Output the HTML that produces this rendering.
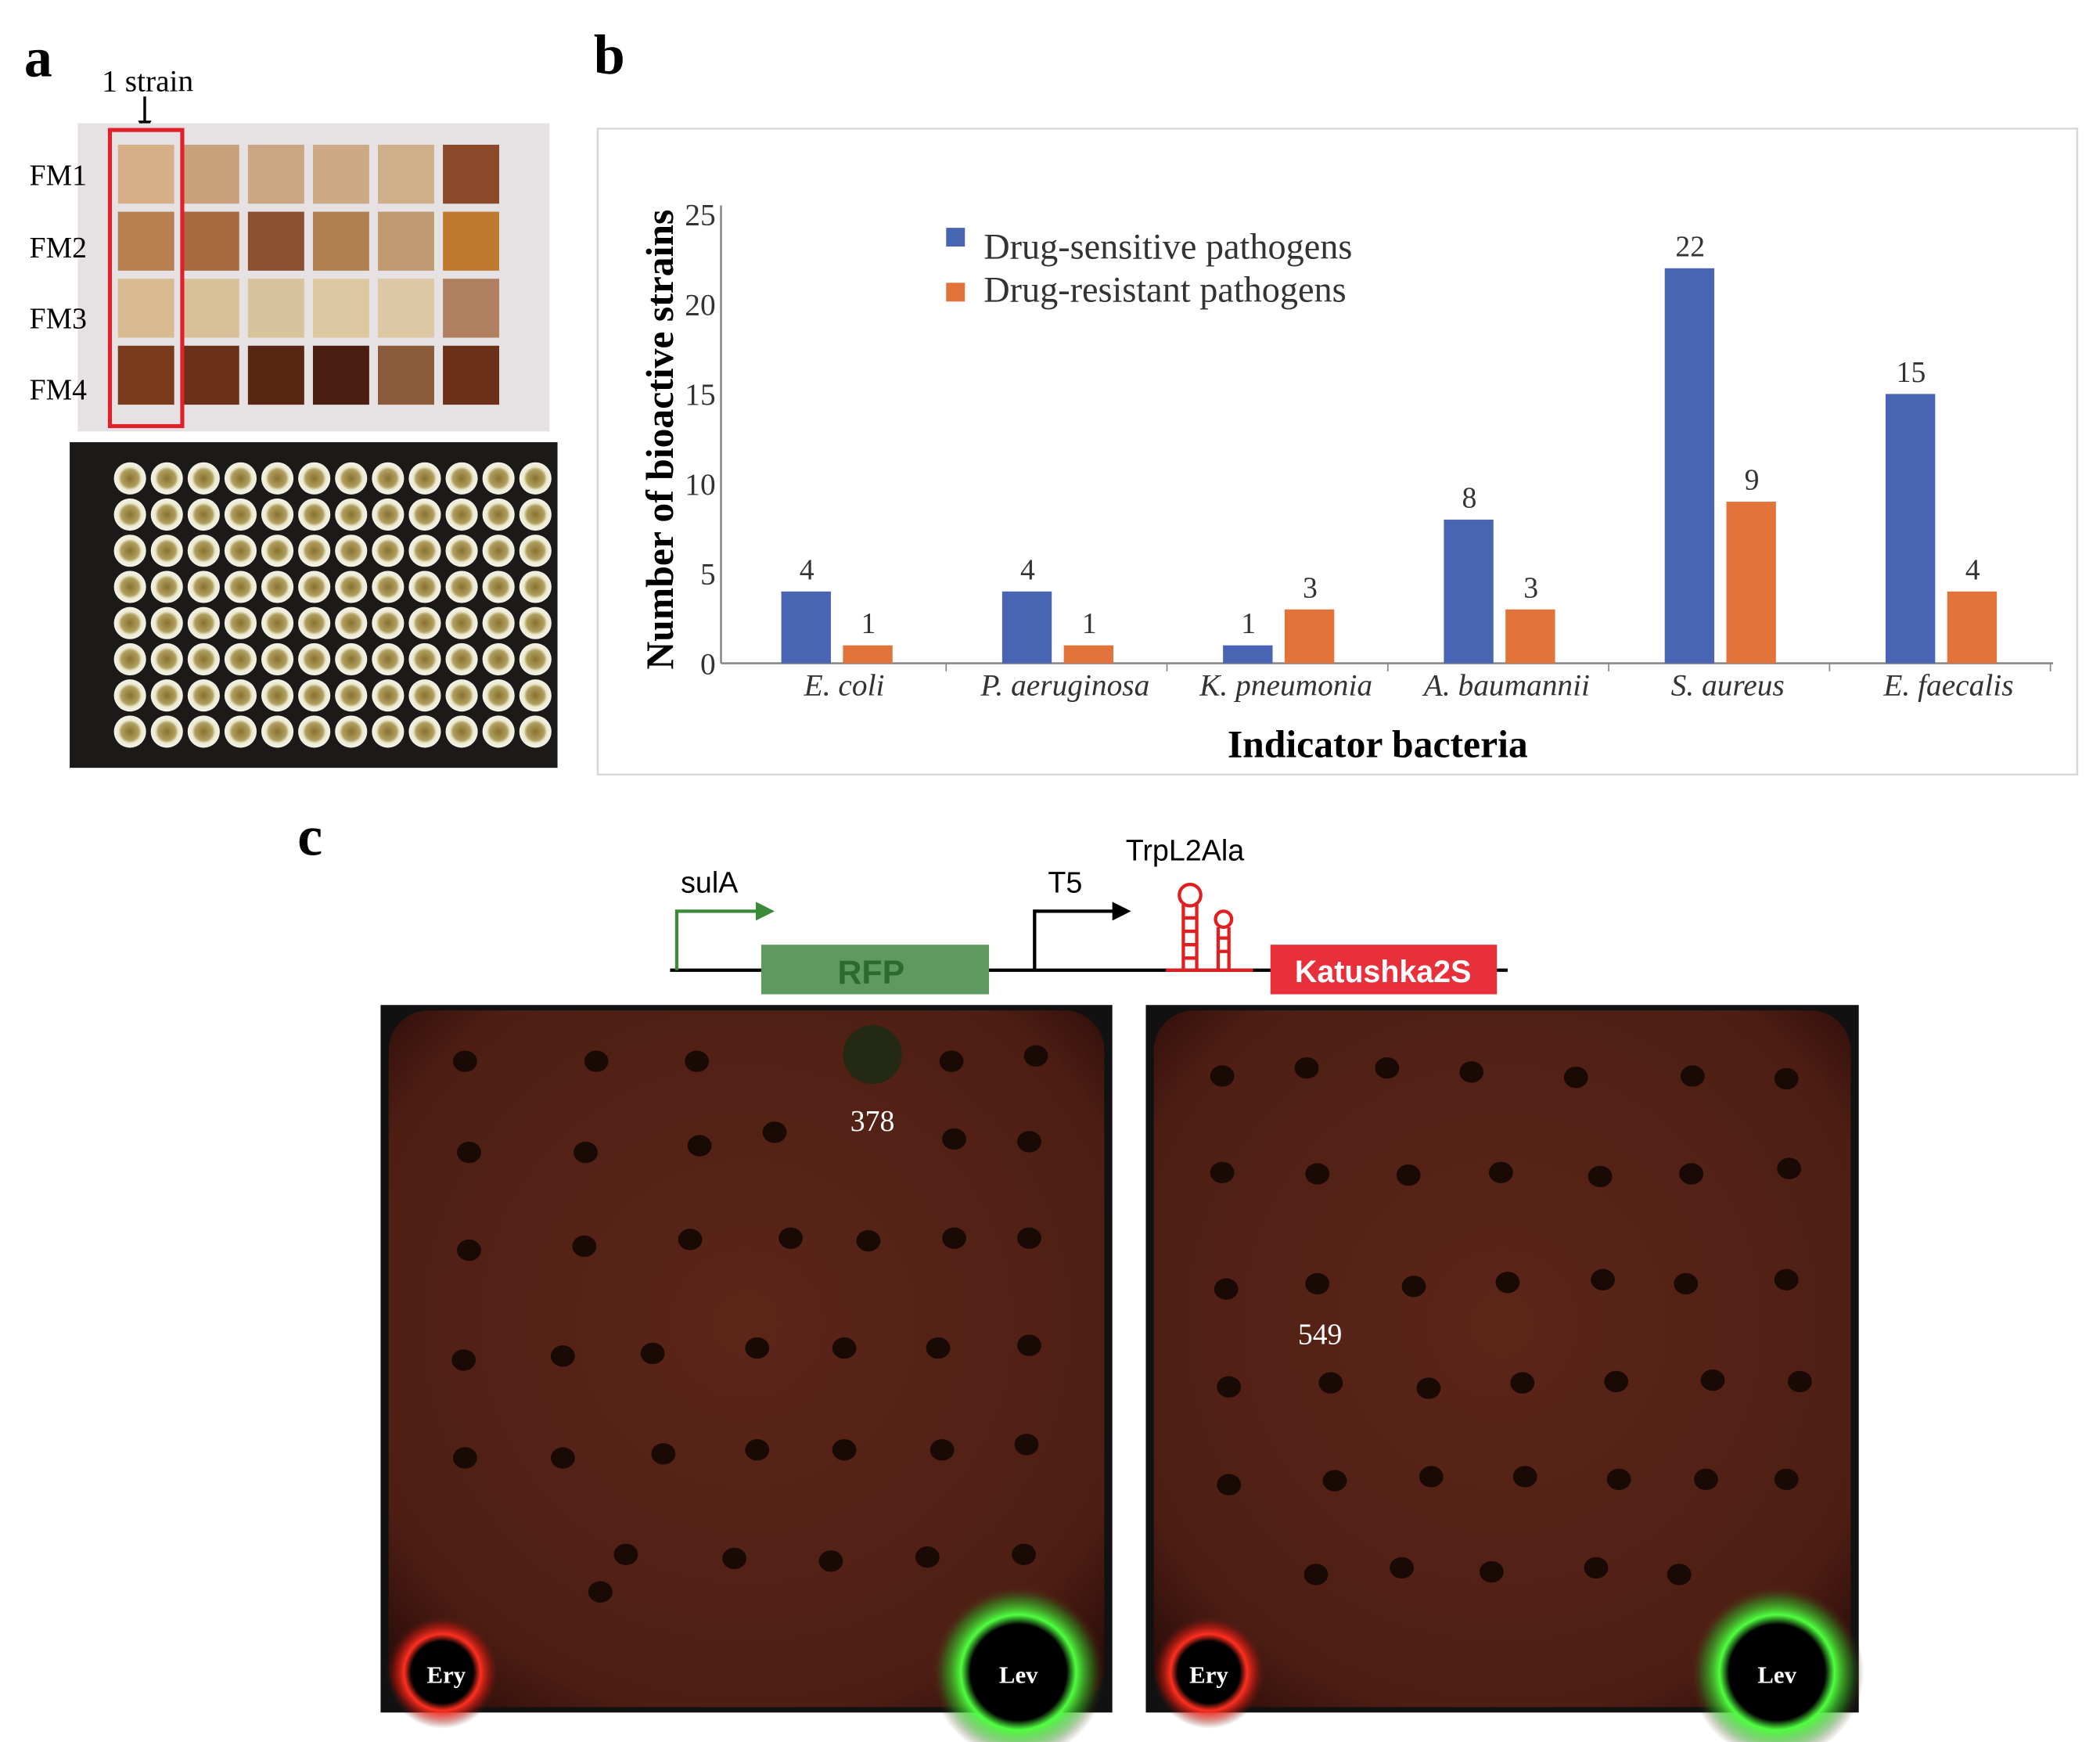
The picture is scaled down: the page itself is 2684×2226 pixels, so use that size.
<!DOCTYPE html>
<html><head><meta charset="utf-8"><style>html,body{margin:0;padding:0;background:#fff}svg{display:block}</style></head>
<body>
<svg id="fig" xmlns="http://www.w3.org/2000/svg" width="2684" height="2226" viewBox="0 0 1567 1300" preserveAspectRatio="none" font-family="'Liberation Serif', serif">
<defs>
<radialGradient id="plateG" cx="50%" cy="45%" r="70%"><stop offset="0" stop-color="#5c2618"/><stop offset="0.8" stop-color="#4e1e14"/><stop offset="1" stop-color="#2a0c08"/></radialGradient>
<radialGradient id="redGlow"><stop offset="0.55" stop-color="#000"/><stop offset="0.68" stop-color="#ff3020"/><stop offset="0.85" stop-color="#c01810" stop-opacity="0.5"/><stop offset="1" stop-color="#4a1c12" stop-opacity="0"/></radialGradient>
<radialGradient id="greenGlow"><stop offset="0.55" stop-color="#000"/><stop offset="0.66" stop-color="#50ff40"/><stop offset="0.85" stop-color="#30a020" stop-opacity="0.5"/><stop offset="1" stop-color="#4a1c12" stop-opacity="0"/></radialGradient>
<radialGradient id="wellG"><stop offset="0" stop-color="#8a7030"/><stop offset="0.55" stop-color="#b0a060"/><stop offset="0.72" stop-color="#ece8d0"/><stop offset="1" stop-color="#f4f4e8"/></radialGradient>
</defs>

<!-- Panel a -->
<text x="18" y="57" font-size="42" font-weight="bold">a</text>
<text x="76" y="68" font-size="23">1 strain</text>
<line x1="108" y1="72" x2="108" y2="94" stroke="#000" stroke-width="2"/>
<polygon points="103,90 113,90 108,100" fill="#000"/>
<g>
<rect x="58" y="92" width="352" height="230" fill="#e6e2e4"/>
<g id="cells"></g>
<rect x="82" y="97" width="54" height="221" fill="none" stroke="#e0202a" stroke-width="3"/>
</g>
<text x="22" y="138" font-size="22">FM1</text>
<text x="22" y="192" font-size="22">FM2</text>
<text x="22" y="245" font-size="22">FM3</text>
<text x="22" y="298" font-size="22">FM4</text>
<g>
<rect x="52" y="330" width="364" height="243" fill="#1c1a18"/>
<g id="wells"></g>
</g>

<!-- Panel b -->
<text x="443" y="55" font-size="42" font-weight="bold">b</text>
<rect x="446" y="96" width="1104" height="482" fill="#fff" stroke="#d8d8d8" stroke-width="1.5"/>
<g id="chart"></g>
<text transform="translate(502,328) rotate(-90)" text-anchor="middle" font-size="29" font-weight="bold">Number of bioactive strains</text>
<text x="1028" y="565" text-anchor="middle" font-size="29" font-weight="bold">Indicator bacteria</text>
<rect x="706" y="170" width="14" height="14" fill="#4a64b4"/>
<text x="734" y="193" font-size="27" fill="#333">Drug-sensitive pathogens</text>
<rect x="706" y="211" width="14" height="14" fill="#e2733a"/>
<text x="734" y="225" font-size="27" fill="#333">Drug-resistant pathogens</text>

<!-- Panel c -->
<text x="222" y="638" font-size="42" font-weight="bold">c</text>
<g font-family="'Liberation Sans', sans-serif">
<line x1="500" y1="724" x2="1125" y2="724" stroke="#000" stroke-width="2.5"/>
<polyline points="505,724 505,680 566,680" fill="none" stroke="#3a8a3a" stroke-width="2.5"/>
<polygon points="564,673 578,680 564,687" fill="#3a8a3a"/>
<text x="508" y="666" font-size="22">sulA</text>
<rect x="568" y="705" width="170" height="37" fill="#5e9a60"/>
<text x="650" y="734" text-anchor="middle" font-size="25" font-weight="bold" fill="#2d6a30">RFP</text>
<polyline points="772,724 772,680 832,680" fill="none" stroke="#000" stroke-width="2.5"/>
<polygon points="830,673 844,680 830,687" fill="#000"/>
<text x="782" y="666" font-size="22">T5</text>
<text x="840" y="642" font-size="22">TrpL2Ala</text>
<g stroke="#e02020" stroke-width="2.5" fill="none">
<line x1="870" y1="724" x2="935" y2="724"/>
<line x1="883" y1="724" x2="883" y2="675"/><line x1="893" y1="724" x2="893" y2="675"/>
<circle cx="888" cy="668" r="8"/>
<line x1="909" y1="724" x2="909" y2="692"/><line x1="917" y1="724" x2="917" y2="692"/>
<circle cx="913" cy="686" r="6"/>
<line x1="883" y1="685" x2="893" y2="685"/><line x1="883" y1="695" x2="893" y2="695"/><line x1="883" y1="705" x2="893" y2="705"/><line x1="883" y1="715" x2="893" y2="715"/>
<line x1="909" y1="700" x2="917" y2="700"/><line x1="909" y1="710" x2="917" y2="710"/>
</g>
<rect x="948" y="705" width="169" height="37" fill="#e8303a"/>
<text x="1032" y="733" text-anchor="middle" font-size="23" font-weight="bold" fill="#fff">Katushka2S</text>
</g>

<g>
<rect x="284" y="750" width="546" height="528" fill="#111"/>
<rect x="290" y="754" width="534" height="520" rx="30" fill="url(#plateG)"/>
<circle cx="330" cy="1248" r="42" fill="url(#redGlow)"/>
<circle cx="760" cy="1248" r="65" fill="url(#greenGlow)"/>
<circle cx="651" cy="787" r="22" fill="#1e2a12" opacity="0.9"/>
<g id="dotsL"></g>
<text x="651" y="844" text-anchor="middle" font-size="22" fill="#fff">378</text>
<text x="333" y="1256" text-anchor="middle" font-size="18" font-weight="bold" fill="#fff">Ery</text>
<text x="760" y="1256" text-anchor="middle" font-size="18" font-weight="bold" fill="#fff">Lev</text>
</g>
<g>
<rect x="855" y="750" width="532" height="528" fill="#111"/>
<rect x="861" y="754" width="520" height="520" rx="30" fill="url(#plateG)"/>
<circle cx="902" cy="1248" r="42" fill="url(#redGlow)"/>
<circle cx="1326" cy="1248" r="65" fill="url(#greenGlow)"/>
<g id="dotsR"></g>
<text x="985" y="1003" text-anchor="middle" font-size="22" fill="#fff">549</text>
<text x="902" y="1256" text-anchor="middle" font-size="18" font-weight="bold" fill="#fff">Ery</text>
<text x="1326" y="1256" text-anchor="middle" font-size="18" font-weight="bold" fill="#fff">Lev</text>
</g>
</svg>
<script>
const categories = ["E. coli","P. aeruginosa","K. pneumonia","A. baumannii","S. aureus","E. faecalis"];
const sensitiveValues = [4,4,1,8,22,15];
const resistantValues = [1,1,3,3,9,4];
const yTicks = [0,5,10,15,20,25];

const NS = "http://www.w3.org/2000/svg";
function mk(tag, attrs, parent){const e=document.createElementNS(NS,tag);for(const k in attrs)e.setAttribute(k,attrs[k]);parent.appendChild(e);return e;}
const y = v => 495 - v*13.4;
const xc = i => 624 + i*164.8;
const chart = document.getElementById('chart');
mk('line',{x1:538,y1:y(0),x2:1532,y2:y(0),stroke:'#888','stroke-width':1.5},chart);
mk('line',{x1:538,y1:y(0),x2:538,y2:y(25.5),stroke:'#888','stroke-width':1.5},chart);
yTicks.forEach(t=>{
  const tx=mk('text',{x:534,y:y(t)+8,'text-anchor':'end','font-size':23,fill:'#333'},chart);
  tx.textContent=t;
  
  
});
categories.forEach((c,i)=>{
  const cx=xc(i);
  mk('line',{x1:cx+82,y1:y(0),x2:cx+82,y2:y(0)+6,stroke:'#888'},chart);
  const b1=mk('rect',{x:cx-41,y:y(sensitiveValues[i]),width:37,height:y(0)-y(sensitiveValues[i]),fill:'#4a64b4'},chart);
  
  
  const b2=mk('rect',{x:cx+5,y:y(resistantValues[i]),width:37,height:y(0)-y(resistantValues[i]),fill:'#e2733a'},chart);
  
  
  const l1=mk('text',{x:cx-22,y:y(sensitiveValues[i])-9,'text-anchor':'middle','font-size':22,fill:'#333'},chart);
  l1.textContent=sensitiveValues[i];
  
  
  const l2=mk('text',{x:cx+24,y:y(resistantValues[i])-9,'text-anchor':'middle','font-size':22,fill:'#333'},chart);
  l2.textContent=resistantValues[i];
  
  
  const cl=mk('text',{x:cx+6,y:519,'text-anchor':'middle','font-size':23,'font-style':'italic',fill:'#333'},chart);
  cl.textContent=c;
  
  
});

// panel a plates
const cellColors=[["#d8b088","#c8a07a","#caa682","#ccaa86","#cfae8a","#8a4a2a"],
["#b88050","#a86a40","#8a5030","#b08050","#c09a70","#c07a30"],
["#d8bc90","#d8c098","#d8c49c","#dcc8a0","#dcc8a4","#b08060"],
["#7a3a1c","#6a3018","#5a2614","#4a1e10","#8a5a3a","#6a3018"]];
const cells=document.getElementById('cells');
for(let r=0;r<4;r++)for(let c=0;c<6;c++){
  mk('rect',{x:88+c*48.5,y:108+r*50,width:42,height:44,fill:cellColors[r][c]},cells);
}
const wells=document.getElementById('wells');
for(let r=0;r<8;r++)for(let c=0;c<12;c++){
  mk('circle',{cx:97+c*27.5,cy:357+r*27,r:12,fill:'url(#wellG)'},wells);
}
const dotsL=[[347,792],[445,792],[520,792],[710,792],[773,788],[350,860],[437,860],[522,855],[578,845],[712,850],[768,852],[350,933],[436,930],[515,925],[590,924],[648,926],[712,924],[768,924],[346,1015],[420,1012],[487,1010],[565,1006],[630,1006],[700,1006],[768,1004],[347,1088],[420,1088],[495,1085],[565,1082],[630,1082],[703,1082],[766,1078],[467,1160],[548,1163],[620,1165],[692,1162],[764,1160],[448,1188]];
const dotsR=[[912,803],[975,797],[1035,797],[1098,800],[1176,804],[1263,803],[1333,805],[912,875],[983,876],[1051,877],[1120,875],[1194,878],[1262,876],[1335,872],[915,962],[983,958],[1055,960],[1125,957],[1196,955],[1258,958],[1333,955],[917,1035],[993,1032],[1066,1036],[1136,1032],[1206,1031],[1278,1030],[1343,1031],[917,1108],[996,1105],[1068,1102],[1138,1102],[1208,1104],[1273,1104],[1333,1104],[982,1175],[1046,1170],[1113,1173],[1191,1170],[1253,1175]];
const gL=document.getElementById('dotsL'), gR=document.getElementById('dotsR');
dotsL.forEach(p=>mk('ellipse',{cx:p[0],cy:p[1],rx:9,ry:8,fill:'#1a0a06'},gL));
dotsR.forEach(p=>mk('ellipse',{cx:p[0],cy:p[1],rx:9,ry:8,fill:'#1a0a06'},gR));
</script>
</body></html>
